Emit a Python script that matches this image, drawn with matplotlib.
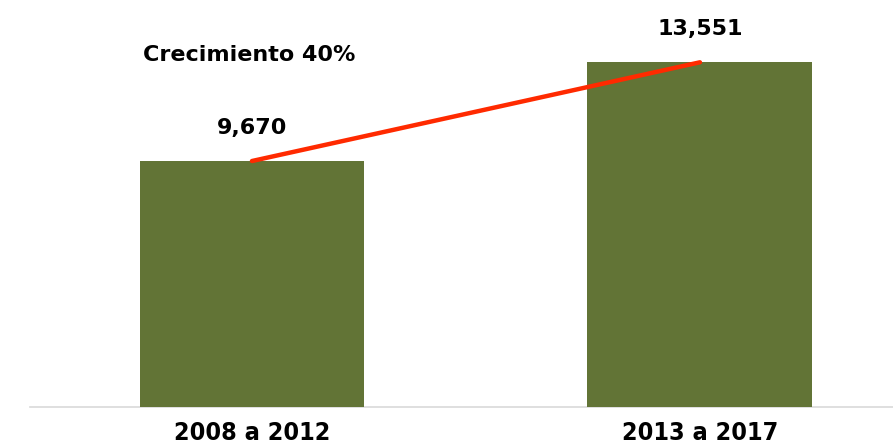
import matplotlib
matplotlib.use('Agg')
import matplotlib.pyplot as plt
import matplotlib.patheffects as pe

periodos = ['2008 a 2012', '2013 a 2017']
valores = [9670, 13551]
titulo = 'Crecimiento 40%'

verde = '#627436'
rojo = '#ff2a00'

fig = plt.figure(figsize=(8.93, 4.44), dpi=100)
ax = fig.add_axes([30/893, 37/444, 863/893, 407/444])
x = list(range(len(periodos)))
bars = ax.bar(x, valores, width=0.502, color=verde, zorder=3,
              path_effects=[pe.SimplePatchShadow(offset=(0, -3), shadow_rgbFace='#808080', alpha=0.35), pe.Normal()])
ax.plot(x, valores, color=rojo, lw=3.2, solid_capstyle='round', zorder=4)

for xi, v in zip(x, valores):
    ax.annotate(f'{v:,}', (xi, v), xytext=(0, 24), textcoords='offset points',
                ha='center', va='center', fontsize=16, fontweight='bold', family='DejaVu Sans')

ax.text(-0.007, 13840, titulo, ha='center', va='center', fontsize=16, fontweight='bold', family='DejaVu Sans')

ax.set_xlim(-0.4955, 1.431)
ax.set_ylim(0, 16000)
ax.set_yticks([])
ax.set_xticks(x)
ax.set_xticklabels(periodos, fontsize=18, fontweight='bold', family='DejaVu Sans',
                   fontstretch='condensed')
ax.tick_params(axis='x', length=0, pad=10)
for s in ['top', 'right', 'left']:
    ax.spines[s].set_visible(False)
ax.spines['bottom'].set_color('#d9d9d9')
ax.spines['bottom'].set_linewidth(1.2)

fig.savefig('out.png', dpi=100)
